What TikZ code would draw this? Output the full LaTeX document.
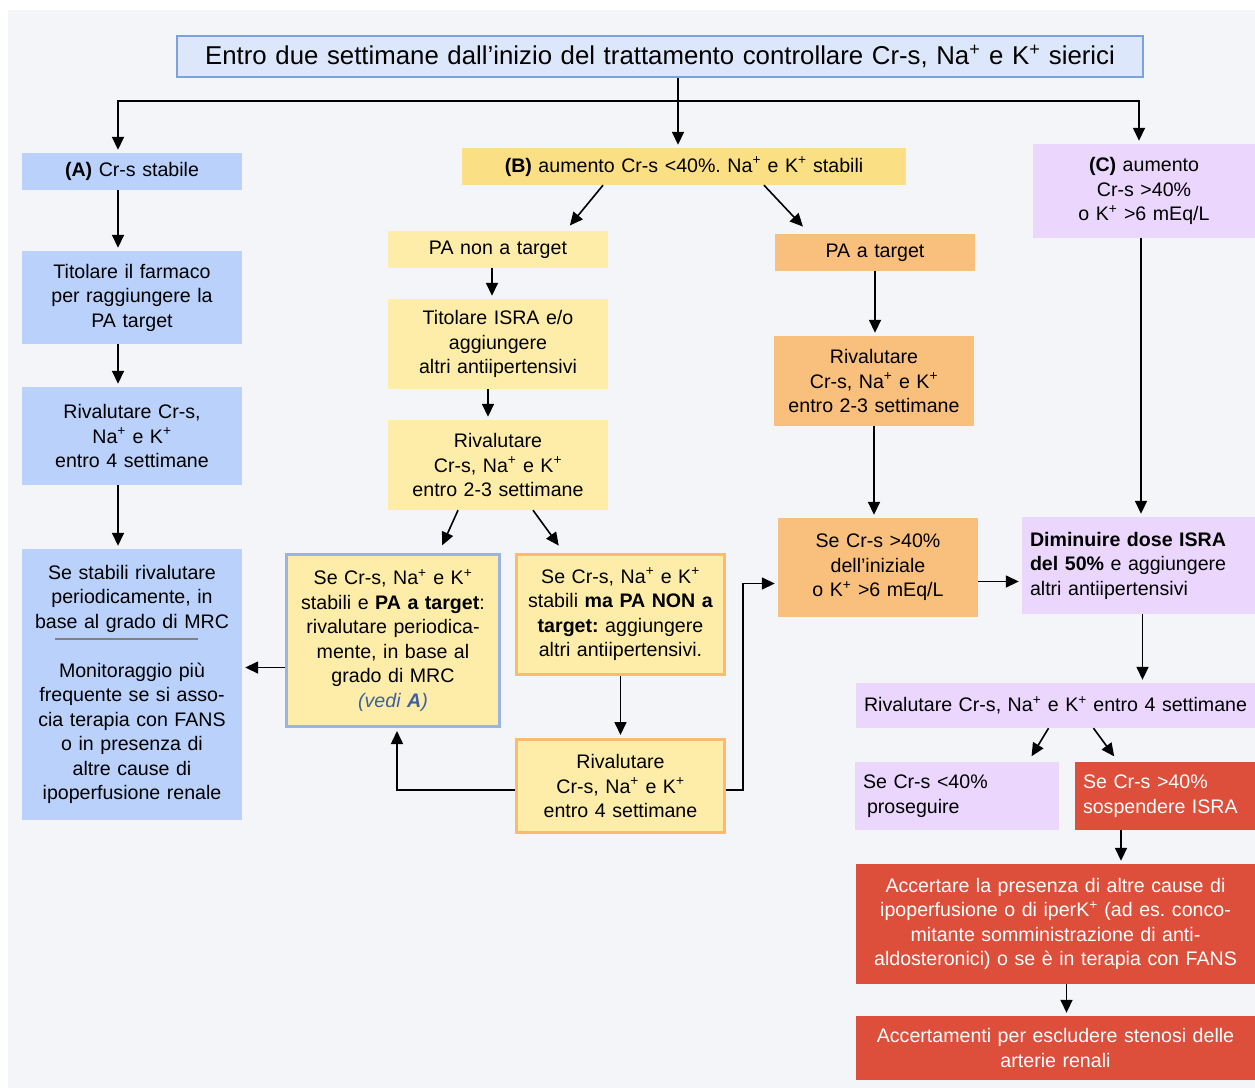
\documentclass[tikz,border=0pt]{standalone}
\usepackage{fontspec}
\setmainfont{Liberation Sans}
\usepackage{tikz}
\usetikzlibrary{arrows.meta}
\definecolor{bgcol}{HTML}{F4F5F8}
\definecolor{topfill}{HTML}{DCE7FB}
\definecolor{topline}{HTML}{7EA1DD}
\definecolor{bluefill}{HTML}{B9D1FB}
\definecolor{goldfill}{HTML}{FADF84}
\definecolor{palefill}{HTML}{FEEDA8}
\definecolor{orangefill}{HTML}{F9BF7C}
\definecolor{lilacfill}{HTML}{EBD6FD}
\definecolor{redfill}{HTML}{DD4E3B}
\definecolor{blueline}{HTML}{9CB3E0}
\definecolor{orangeline}{HTML}{F8BB70}
\definecolor{vedicol}{HTML}{3F5FA0}
\newcommand{\Nap}{Na\textsuperscript{+}}
\newcommand{\Kp}{K\textsuperscript{+}}
\frenchspacing

\begin{document}
\begin{tikzpicture}[x=1pt, y=-1pt,
  box/.style={inner sep=3pt, align=center, font=\fontsize{19.6}{24.5}\selectfont},
  bluebox/.style={box, fill=bluefill},
  goldbox/.style={box, fill=goldfill},
  palebox/.style={box, fill=palefill},
  orangebox/.style={box, fill=orangefill},
  lilacbox/.style={box, fill=lilacfill},
  redbox/.style={box, fill=redfill, text=white},
  arr/.style={-{Triangle[length=13pt,width=12pt]}, line width=1.6pt, shorten >=3pt}]

  \useasboundingbox (0,0) rectangle (1255,1088);
  \fill[bgcol] (8,10) rectangle (1255,1088);

  %% top
  \node[box, fill=topfill, draw=topline, line width=2pt, text width=960,
    minimum height=41, font=\fontsize{25.8}{30}\selectfont] (top) at (660,56.5)
    {Entro due settimane dall’inizio del trattamento controllare Cr-s, \Nap{} e \Kp{} sierici};

  %% column A
  \node[bluebox, text width=214, minimum height=37] (a1) at (132,171.5) {\textbf{(A)} Cr-s stabile};
  \node[bluebox, text width=214, minimum height=93] (a2) at (132,297.5)
    {Titolare il farmaco\\per raggiungere la\\PA target};
  \node[bluebox, text width=214, minimum height=98] (a3) at (132,436)
    {Rivalutare Cr-s,\\\Nap{} e \Kp\\entro 4 settimane};
  \node[bluebox, text width=214, minimum height=271] (a4) at (132,684.5)
    {Se stabili rivalutare\\periodicamente, in\\base al grado di MRC\\[24.5pt]
     Monitoraggio più\\frequente se si asso-\\cia terapia con FANS\\o in presenza di\\altre cause di\\ipoperfusione renale};
  \draw[gray, line width=1.2pt] ([shift={(-77,-45.5)}]a4.center) -- ++(143,0);

  %% column B
  \node[goldbox, text width=438, minimum height=37] (b) at (684,166.5)
    {\textbf{(B)} aumento Cr-s <40\%. \Nap{} e \Kp{} stabili};
  \node[palebox, text width=214, minimum height=37] (b1) at (498,249.5) {PA non a target};
  \node[palebox, text width=214, minimum height=90] (b2) at (498,344)
    {Titolare ISRA e/o\\aggiungere\\altri antiipertensivi};
  \node[palebox, text width=214, minimum height=90] (b3) at (498,465)
    {Rivalutare\\Cr-s, \Nap{} e \Kp\\entro 2-3 settimane};
  \node[palebox, draw=blueline, line width=3pt, text width=207, minimum height=172] (b4) at (393,640.5)
    {Se Cr-s, \Nap{} e \Kp\\stabili e \textbf{PA a target}:\\rivalutare periodica-\\mente, in base al\\grado di MRC\\
     \textcolor{vedicol}{\textit{(vedi \textbf{A})}}};
  \node[palebox, draw=orangeline, line width=3pt, text width=202, minimum height=120] (b5) at (620.5,614.5)
    {Se Cr-s, \Nap{} e \Kp\\stabili \textbf{ma PA NON a}\\\textbf{target:} aggiungere\\altri antiipertensivi.};
  \node[palebox, draw=orangeline, line width=3pt, text width=202, minimum height=93] (b6) at (620.5,786)
    {Rivalutare\\Cr-s, \Nap{} e \Kp\\entro 4 settimane};

  %% PA a target
  \node[orangebox, text width=194, minimum height=37] (c1) at (875,252.5) {PA a target};
  \node[orangebox, text width=194, minimum height=90] (c2) at (874,381)
    {Rivalutare\\Cr-s, \Nap{} e \Kp\\entro 2-3 settimane};
  \node[orangebox, text width=194, minimum height=99] (c3) at (878,567.5)
    {Se Cr-s >40\%\\dell’iniziale\\o \Kp{} >6 mEq/L};

  %% column C
  \node[lilacbox, text width=216, minimum height=94] (d1) at (1144,191)
    {\textbf{(C)} aumento\\Cr-s >40\%\\o \Kp{} >6 mEq/L};
  \node[lilacbox, align=left, inner xsep=8pt, text width=217, minimum height=97] (d2) at (1138.5,565.5)
    {\textbf{Diminuire dose ISRA}\\\textbf{del 50\%} e aggiungere\\altri antiipertensivi};
  \node[lilacbox, text width=393, minimum height=45] (d3) at (1055.5,705.5)
    {Rivalutare Cr-s, \Nap{} e \Kp{} entro 4 settimane};
  \node[lilacbox, align=left, inner xsep=8pt, text width=188, minimum height=68] (d4) at (957,796)
    {Se Cr-s <40\%\\\hspace*{4pt}proseguire};
  \node[redbox, align=left, inner xsep=8pt, text width=164, minimum height=68] (d5) at (1165,796)
    {Se Cr-s >40\%\\sospendere ISRA};
  \node[redbox, text width=393, minimum height=120] (d6) at (1055.5,924)
    {Accertare la presenza di altre cause di\\ipoperfusione o di iper\Kp{} (ad es. conco-\\mitante somministrazione di anti-\\aldosteronici) o se è in terapia con FANS};
  \node[redbox, text width=393, minimum height=64] (d7) at (1055.5,1048)
    {Accertamenti per escludere stenosi delle\\arterie renali};

  %% connectors
  \coordinate (split) at (678,101);
  \draw[line width=1.6pt] ([xshift=18pt]top.south) -- (split);
  \draw[arr] (split) -| ([xshift=-14pt]a1.north);
  \draw[arr] (split) -- (split |- b.north);
  \draw[arr] (split) -| ([xshift=-5pt]d1.north);

  \draw[arr] ([xshift=-14pt]a1.south) -- ([xshift=-14pt]a2.north); % A1->A2
  \draw[arr] ([xshift=-14pt]a2.south) -- ([xshift=-14pt]a3.north); % A2->A3
  \draw[arr] ([xshift=-14pt]a3.south) -- ([xshift=-14pt]a4.north); % A3->A4

  \draw[arr] ([xshift=-81pt]b.south) -- ([xshift=70pt,yshift=3pt]b1.north); % B->B1
  \draw[arr] ([xshift=80pt]b.south) -- ([xshift=-70pt,yshift=5pt]c1.north); % B->C1
  \draw[arr] ([xshift=-6pt]b1.south) -- ([xshift=-6pt]b2.north); % B1->B2
  \draw[arr] ([xshift=-10pt]b2.south) -- ([xshift=-10pt]b3.north); % B2->B3
  \draw[arr] ([xshift=-40pt]b3.south) -- ([xshift=48pt,yshift=5pt]b4.north); % B3->B4
  \draw[arr] ([xshift=35pt]b3.south) -- ([xshift=-60pt,yshift=5pt]b5.north); % B3->B5

  \coordinate (b4w) at ([yshift=-27pt]b4.west);
  \draw[arr] (b4w) -- (b4w -| a4.east); % B4->A4
  \draw[arr] (b5.south) -- (b6.north); % B5->B6
  \draw[arr] ([yshift=-4pt]b6.west) -| ([xshift=4pt]b4.south); % B6->B4
  \draw[arr] ([yshift=-4pt]b6.east) -- ++(17,0) |- ([yshift=-16pt]c3.west); % B6->C3

  \draw[arr] (c1.south) -- (c1.south |- c2.north); % C1->C2
  \draw[arr] (c2.south) -- (c2.south |- c3.north); % C2->C3
  \coordinate (c3e) at ([yshift=-14pt]c3.east);
  \draw[arr] (c3e) -- (c3e -| d2.west); % C3->D2

  \draw[arr] ([xshift=-3pt]d1.south) -- ([xshift=-3pt]d1.south |- d2.north); % D1->D2
  \draw[arr] ([xshift=4pt]d2.south) -- ([xshift=4pt]d2.south |- d3.north); % D2->D3
  \draw[arr] ([xshift=-7pt]d3.south) -- ([xshift=73pt,yshift=3pt]d4.north); % D3->D4
  \draw[arr] ([xshift=38pt]d3.south) -- ([xshift=-49pt,yshift=3pt]d5.north); % D3->D5
  \coordinate (d5s) at ([xshift=-44pt]d5.south);
  \draw[arr] (d5s) -- (d5s |- d6.north); % D5->D6
  \draw[arr] ([xshift=11pt]d6.south) -- ([xshift=11pt]d7.north); % D6->D7

\end{tikzpicture}
\end{document}
